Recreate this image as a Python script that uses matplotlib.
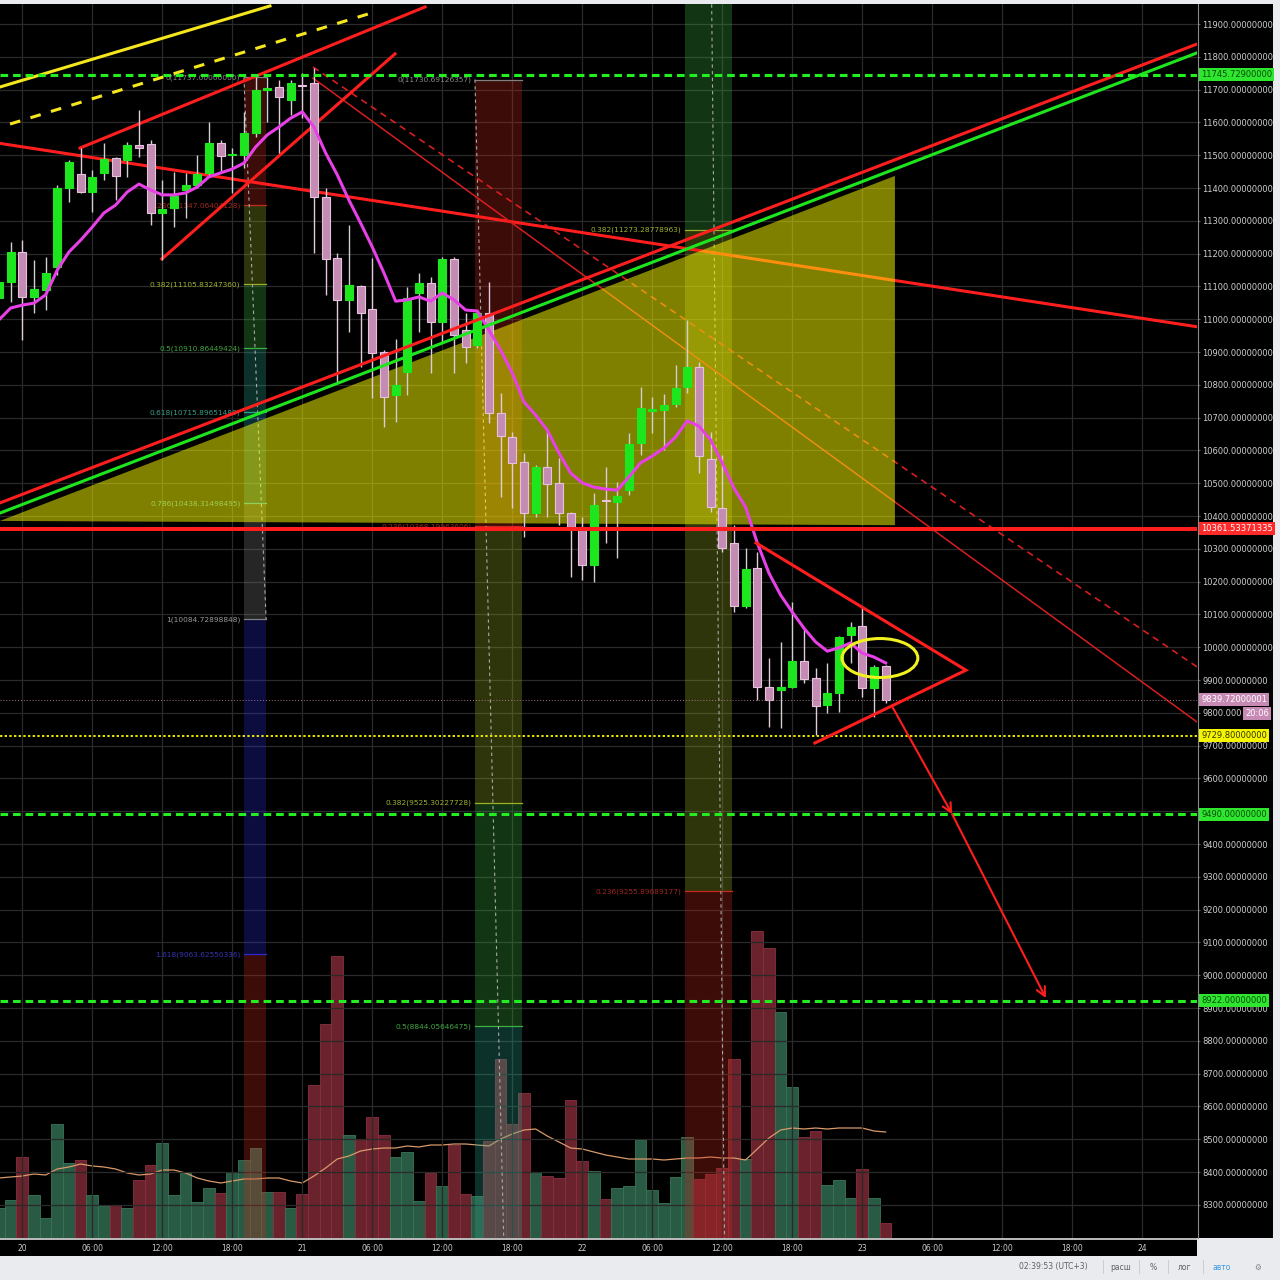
import numpy as np
import matplotlib
matplotlib.use('Agg')
import matplotlib.pyplot as plt
import matplotlib.transforms as mtransforms
from matplotlib.patches import Rectangle, Polygon, Ellipse
from matplotlib.lines import Line2D

# 1h candles, hour index counted from 20th 00:00 (-2 = 19th 22:00, 74 = 23rd 02:00)
hours = list(range(-2, 75))

open_ = [11065, 11113, 11205, 11068, 11089, 11159, 11400, 11443, 11388, 11446,
         11491, 11485, 11531, 11534, 11324, 11339, 11394, 11409, 11446, 11537,
         11500, 11501, 11568, 11700, 11708, 11668, 11715, 11720, 11373, 11187,
         11059, 11101, 11031, 10900, 10769, 10839, 11080, 11110, 10991, 11184,
         10967, 10921, 11019, 10714, 10641, 10565, 10409, 10549, 10501, 10409,
         10366, 10251, 10449, 10443, 10479, 10623, 10720, 10723, 10741, 10793,
         10854, 10574, 10424, 10318, 10126, 10241, 9879, 9869, 9879, 9958,
         9906, 9824, 9860, 10037, 10065, 9876, 9943]
high = [11135, 11235, 11241, 11180, 11190, 11409, 11485, 11522, 11455, 11537,
        11494, 11540, 11638, 11546, 11424, 11449, 11446, 11501, 11601, 11546,
        11522, 11632, 11738, 11738, 11729, 11729, 11751, 11765, 11400, 11202,
        11287, 11105, 11187, 10906, 10940, 11098, 11141, 11129, 11190, 11190,
        11019, 11028, 11113, 10775, 10656, 10592, 10555, 10662, 10577, 10412,
        10397, 10470, 10549, 10504, 10653, 10793, 10763, 10772, 10860, 10998,
        10869, 10656, 10586, 10373, 10302, 10290, 9967, 10016, 10138, 10058,
        9937, 9952, 10035, 10077, 10123, 9946, 9946]
low = [11043, 11052, 10937, 11019, 11028, 11135, 11357, 11385, 11327, 11424,
       11363, 11434, 11494, 11287, 11180, 11281, 11309, 11400, 11440, 11449,
       11385, 11461, 11555, 11601, 11507, 11623, 11613, 11202, 11074, 10805,
       10961, 10854, 10760, 10671, 10687, 10769, 10961, 10836, 10930, 10836,
       10866, 10912, 10684, 10458, 10424, 10336, 10397, 10397, 10373, 10214,
       10205, 10199, 10318, 10272, 10464, 10586, 10653, 10601, 10732, 10775,
       10531, 10412, 10290, 10107, 10120, 9839, 9757, 9754, 9876, 9891,
       9732, 9799, 9802, 9952, 9848, 9787, 9830]
close = [11113, 11205, 11068, 11092, 11141, 11400, 11479, 11388, 11434, 11488,
         11437, 11531, 11522, 11324, 11336, 11376, 11409, 11443, 11537, 11498,
         11500, 11568, 11699, 11702, 11677, 11720, 11711, 11373, 11184, 11059,
         11104, 11019, 10897, 10763, 10799, 11065, 11110, 10991, 11184, 10952,
         10915, 11019, 10714, 10644, 10562, 10409, 10549, 10498, 10409, 10366,
         10251, 10434, 10446, 10461, 10620, 10729, 10726, 10738, 10790, 10854,
         10583, 10427, 10302, 10126, 10238, 9879, 9839, 9879, 9958, 9903,
         9821, 9860, 10031, 10062, 9876, 9940, 9839.72]
ma_line = [10998, 11034, 11043, 11049, 11074, 11150, 11205, 11241, 11281, 11324,
           11348, 11388, 11412, 11394, 11379, 11379, 11385, 11403, 11434, 11446,
           11458, 11476, 11525, 11562, 11586, 11613, 11632, 11586, 11507, 11440,
           11363, 11293, 11220, 11141, 11055, 11059, 11068, 11055, 11080, 11059,
           11028, 11025, 10967, 10906, 10836, 10748, 10708, 10662, 10592, 10531,
           10501, 10488, 10482, 10479, 10519, 10562, 10583, 10607, 10641, 10690,
           10674, 10632, 10562, 10485, 10427, 10318, 10226, 10159, 10107, 10058,
           10016, 9988, 9998, 10013, 9982, 9970, 9952]
volume = [30, 38, 81, 43, 20, 114, 75, 78, 43, 32, 33, 30, 58, 73, 95, 43, 65, 36,
          50, 45, 66, 78, 90, 46, 46, 30, 44, 153, 214, 282, 103, 99, 121, 103,
          81, 86, 37, 65, 52, 93, 44, 42, 97, 179, 114, 145, 66, 62, 60, 138, 77,
          67, 39, 50, 52, 98, 48, 35, 61, 101, 59, 64, 70, 179, 79, 307, 290, 226,
          151, 101, 107, 53, 58, 40, 69, 40, 15]
volume_ma = [60, 61, 62, 64, 63, 69, 71, 74, 72, 71, 69, 65, 63, 64, 68, 68, 65,
             60, 57, 55, 57, 59, 59, 60, 60, 57, 55, 62, 70, 79, 82, 87, 89, 90,
             90, 92, 91, 93, 93, 94, 94, 93, 92, 99, 104, 108, 109, 102, 96, 90,
             89, 86, 83, 81, 79, 79, 79, 78, 79, 80, 80, 81, 80, 80, 78, 89, 100,
             108, 110, 109, 110, 109, 110, 110, 110, 107, 106]

x_ticks = list(range(0, 97, 6))
x_labels = ['20', '06:00', '12:00', '18:00', '21', '06:00', '12:00', '18:00', '22',
            '06:00', '12:00', '18:00', '23', '06:00', '12:00', '18:00', '24']
price_ticks = list(range(8300, 11901, 100))

# horizontal levels
green_levels = [11745.729, 9490.0, 8922.0]
support_red = 10361.53371335
yellow_level = 9729.8
last_price = 9839.72000001

# fib tools: (time anchors, levels, prices)
fib_a_anchor = [(19.0, 11737.0), (20.9, 10084.72898848)]
fib_a_levels = [0, 0.236, 0.382, 0.5, 0.618, 0.786, 1, 1.618, 2.618]
fib_a_prices = [11737.0, 11347.06404128, 11105.83247360, 10910.86449424,
                10715.89651488, 10438.31498495, 10084.72898848, 9063.62550336, 7411.35]
fib_b_anchor = [(38.8, 11730.69126357), (42.83, 5957.42)]
fib_b_levels = [0, 0.236, 0.382, 0.5, 0.618]
fib_b_prices = [11730.69126357, 10368.19963606, 9525.30227728, 8844.05646475, 8162.81]
fib_c_anchor = [(60.83, 5994.91), (56.8, 19812.66)]
fib_c_levels = [0, 0.236, 0.382, 0.5]
fib_c_prices = [5994.91, 9255.89689177, 11273.28778963, 12903.78]
fib_col = {0: '#808080', 0.236: '#c8291f', 0.382: '#9db024', 0.5: '#3cb043',
           0.618: '#2aa58c', 0.786: '#1f9fb8', 1: '#808080', 1.618: '#2a2ad0',
           2.618: '#c8291f'}
fib_txt = {0: '#8a8a8a', 0.236: '#a02820', 0.382: '#a0b030', 0.5: '#40a840',
           0.618: '#3a9c88', 0.786: '#40a0b0', 1: '#9a9a9a', 1.618: '#3535b5',
           2.618: '#a02820'}

# drawings (hour, price)
yellow_solid = ([-1.91, 21.23], [11708, 11955])
yellow_dash = ([-1.05, 30.23], [11595, 11937])
chan_upper = ([4.95, 34.52], [11522, 11952])
chan_lower = ([11.97, 31.95], [11184, 11809])
red_long = ([-1.91, 100.69], [11536, 10977])
rise_red = ([-1.91, 100.69], [10440, 11839])
rise_green = ([-1.91, 100.69], [10409, 11812])
yellow_tri = ([-1.91, 74.8, 74.8], [10385, 11437, 10372])
desc_solid = ([24.92, 100.69], [11735, 9772])
desc_dash = ([24.92, 100.69], [11769, 9940])
pattern_tri = ([62.89, 80.89, 67.94], [10318, 9930, 9708])
arrow_path = ([74.63, 79.7, 87.74], [9815, 9491, 8930])

W = H = 1280.0


def fx(px):
    return px / W


def fy(py):
    return 1 - py / H


fig = plt.figure(figsize=(12.8, 12.8), dpi=100, facecolor='#e9ebee')
fig.add_artist(Rectangle((fx(1197), fy(1238)), fx(1273) - fx(1197), (1238 - 4) / H,
                         transform=fig.transFigure, fc='black', ec='none', zorder=0))
fig.add_artist(Rectangle((0, fy(1256)), fx(1197), 18 / H,
                         transform=fig.transFigure, fc='black', ec='none', zorder=0))

pos = [0, fy(1238), fx(1197), (1238 - 4) / H]
ax_v = fig.add_axes(pos)
ax = fig.add_axes(pos)
ax_v.set_zorder(1)
ax.set_zorder(2)
ax.patch.set_visible(False)
ax_v.set_facecolor('black')
for a in (ax, ax_v):
    a.set_xlim(-1.91, 100.69)
    for s in a.spines.values():
        s.set_visible(False)
ax.set_ylim(8198.8, 11961)
ax_v.set_ylim(0, 1234)
ax_v.set_xticks([])
ax_v.set_yticks([])

# volume
up = [c >= o for o, c in zip(open_, close)]
ax_v.bar(hours, volume, width=1.0,
         color=['#285a44' if u else '#6a222c' for u in up],
         edgecolor=['#3a7558' if u else '#8a3040' for u in up], lw=0.6)
ax_v.plot(hours, volume_ma, color='#d89a6a', lw=0.9)

# grid / ticks
ax.set_axisbelow(True)
ax.grid(True, color='#2a2a2a', lw=0.9)
ax.set_xticks(x_ticks)
ax.set_xticklabels(x_labels)
ax.yaxis.tick_right()
ax.set_yticks(price_ticks)
# the 9800 label is cut short by the countdown box, as in the terminal
ax.set_yticklabels(['9800.000' if v == 9800 else f'{v:.8f}' for v in price_ticks])
ax.tick_params(axis='y', color='#777777', labelcolor='#cfcfcf', labelsize=6,
               length=2.5, pad=1.5, width=0.6)
ax.tick_params(axis='x', length=0, pad=4, labelsize=5.5, labelcolor='#cfcfcf')

# fib tools
for anchor, levels, prices in [(fib_a_anchor, fib_a_levels, fib_a_prices),
                               (fib_b_anchor, fib_b_levels, fib_b_prices),
                               (fib_c_anchor, fib_c_levels, fib_c_prices)]:
    x0 = min(anchor[0][0], anchor[1][0])
    x1 = max(anchor[0][0], anchor[1][0])
    for i in range(1, len(levels)):
        lo, hi = sorted([prices[i - 1], prices[i]])
        ax.add_patch(Rectangle((x0, lo), x1 - x0, hi - lo, fc=fib_col[levels[i]],
                               ec='none', alpha=0.3, zorder=1))
    for lv, pr in zip(levels, prices):
        if 8200 < pr < 11960:
            ax.plot([x0, x1], [pr, pr], color=fib_col[lv], lw=0.9, zorder=1.1)
            ax.annotate(f'{lv:g}({pr:.8f})', (x0, pr), xytext=(-2.5, 0),
                        textcoords='offset points', ha='right', va='center',
                        fontsize=5.3, color=fib_txt[lv], zorder=1.2)
    ax.plot([anchor[0][0], anchor[1][0]], [anchor[0][1], anchor[1][1]],
            color='#a8a8a8', lw=0.8, ls=(0, (3, 3)), zorder=1.3)

# lines under the yellow zone
ax.plot(*red_long, color='#ff1e1e', lw=2.2, zorder=2)
ax.plot(*desc_solid, color='#d81e1e', lw=1.1, zorder=2)
ax.plot(*desc_dash, color='#d81e1e', lw=1.2, ls=(0, (4, 3)), zorder=2)
ax.plot(*yellow_solid, color='#f5e61e', lw=2.2, zorder=2)
ax.plot(*yellow_dash, color='#f5e61e', lw=2.2, ls=(0, (3.5, 3.5)), zorder=2)
ax.plot(*chan_upper, color='#ff1e1e', lw=2.2, zorder=2)
ax.plot(*chan_lower, color='#ff1e1e', lw=2.2, zorder=2)

ax.add_patch(Polygon(list(zip(*yellow_tri)), closed=True, fc='#ffff00',
                     ec='none', alpha=0.5, zorder=3))

# candles
body_lo = [min(o, c) for o, c in zip(open_, close)]
body_h = [max(abs(c - o), 4) for o, c in zip(open_, close)]
ax.vlines(hours, low, high, colors=['#d0d0d0' if u else '#e3cadb' for u in up],
          lw=1.0, zorder=4)
ax.bar(hours, body_h, bottom=body_lo, width=0.68,
       color=['#1ee61e' if u else '#c48bb3' for u in up],
       edgecolor=['#1ee61e' if u else '#e6c3dc' for u in up], lw=0.8, zorder=4.1)
ax.plot(hours, ma_line, color='#e640e6', lw=2.2, zorder=5)

# drawings on top
ax.plot(*rise_red, color='#ff1e1e', lw=2.2, zorder=6)
ax.plot(*rise_green, color='#1ee61e', lw=2.2, zorder=6)
ax.axhline(support_red, color='#ff1e1e', lw=2.9, zorder=6)
for lv in green_levels:
    ax.axhline(lv, color='#22ee22', lw=2.2, dashes=(2.5, 1.6), zorder=6)
ax.axhline(yellow_level, color='#e6e600', lw=1.4, dashes=(1.2, 1.2), zorder=6)
ax.axhline(last_price, color='#a07890', lw=0.7, dashes=(1, 2), zorder=6)
# open wedge: upper and lower legs only
ax.plot(*pattern_tri, color='#ff1e1e', lw=2.2, zorder=6, solid_joinstyle='miter')
ax.add_patch(Ellipse((73.51, 9967), 6.5, 119, fill=False, ec='#f0f020',
                     lw=2.2, zorder=6))
for i in range(2):
    ax.annotate('', xy=(arrow_path[0][i + 1], arrow_path[1][i + 1]),
                xytext=(arrow_path[0][i], arrow_path[1][i]),
                arrowprops=dict(arrowstyle='->', color='#ff1e1e', lw=1.5,
                                mutation_scale=16, shrinkA=0, shrinkB=0),
                zorder=6)

# right-axis price labels
tr = mtransforms.blended_transform_factory(ax.transAxes, ax.transData)
boxes = [(11745.729, '11745.72900000', '#2ee62e', '#0a4a0a'),
         (support_red, '10361.53371335', '#ff2a2a', 'white'),
         (last_price, '9839.72000001', '#c68ab4', 'white'),
         (yellow_level, '9729.80000000', '#f5f500', '#333300'),
         (9490.0, '9490.00000000', '#2ee62e', '#0a4a0a'),
         (8922.0, '8922.00000000', '#2ee62e', '#0a4a0a')]
for pr, txt, fc, tc in boxes:
    ax.text(1.0035, pr, txt, transform=tr, ha='left', va='center', fontsize=6,
            color=tc, clip_on=False, zorder=10,
            bbox=dict(boxstyle='square,pad=0.25', fc=fc, ec='none'))
ax.text(1.0405, 9798, '20:06', transform=tr, ha='left', va='center', fontsize=6,
        color='white', clip_on=False, zorder=10,
        bbox=dict(boxstyle='square,pad=0.25', fc='#c68ab4', ec='none'))

# frame lines
fig.add_artist(Line2D([0, fx(1197)], [fy(1238.5)] * 2, transform=fig.transFigure,
                      color='#dcdcdc', lw=1.2, zorder=5))
fig.add_artist(Line2D([fx(1197.5)] * 2, [fy(4), fy(1238)], transform=fig.transFigure,
                      color='#8a8a8a', lw=0.8, zorder=5))

# status bar
status = [(1053, '02:39:53 (UTC+3)', '#606060'), (1121, 'расш', '#606060'),
          (1153, '%', '#606060'), (1185, 'лог', '#606060'), (1222, 'авто', '#3d9be0'),
          (1258, '⚙', '#808080')]
for px, txt, col in status:
    fig.text(fx(px), fy(1267), txt, ha='center', va='center', fontsize=5.5, color=col)
for px in [1103, 1139, 1168, 1203]:
    fig.add_artist(Line2D([fx(px)] * 2, [fy(1260), fy(1273)], transform=fig.transFigure,
                          color='#c8c8c8', lw=0.6))

fig.savefig('out.png', dpi=100, facecolor=fig.get_facecolor())
